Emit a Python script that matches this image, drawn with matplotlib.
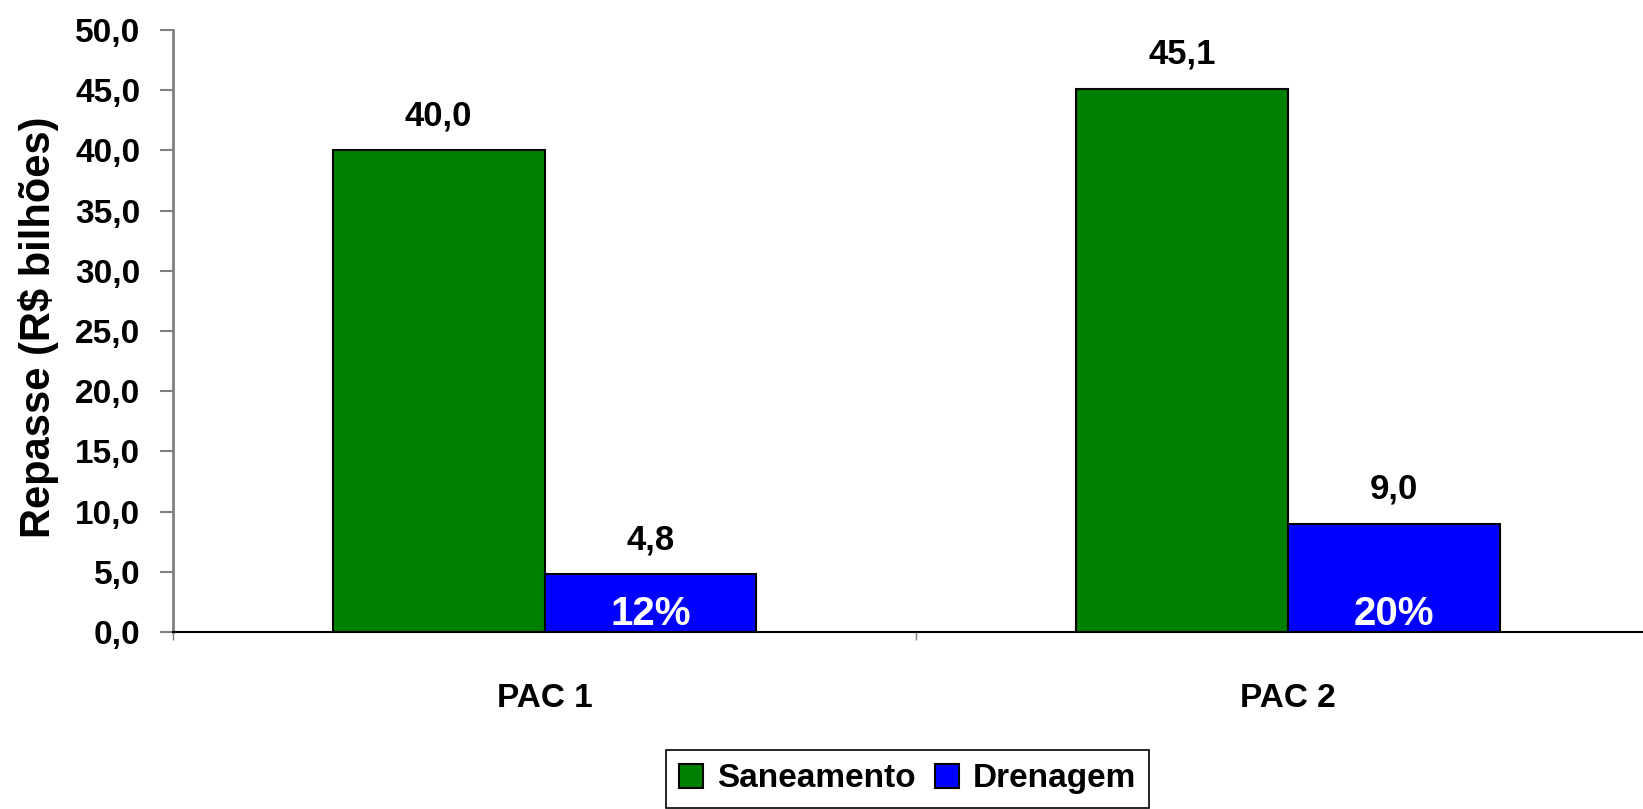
import numpy as np
import matplotlib
matplotlib.use("Agg")
import matplotlib.pyplot as plt
from matplotlib.patches import Patch

categories = ["PAC 1", "PAC 2"]
saneamento = [40.0, 45.1]
drenagem = [4.8, 9.0]
shares = ["12%", "20%"]
y_ticks = [0, 5, 10, 15, 20, 25, 30, 35, 40, 45, 50]

plt.rcParams["font.family"] = ["Liberation Sans", "DejaVu Sans"]
plt.rcParams["font.weight"] = "bold"

fig = plt.figure(figsize=(16.43, 8.09), dpi=100)
ax = fig.add_axes([173 / 1643, 1 - 632 / 809, 1 - 173 / 1643, (632 - 30) / 809])

x = np.arange(len(categories))
w = 0.285
ax.bar(x - w / 2, saneamento, w, color="#008000", edgecolor="black", linewidth=1.5)
ax.bar(x + w / 2, drenagem, w, color="#0000FF", edgecolor="black", linewidth=1.5)

# value labels above the bars
for xs, vals in [(x - w / 2, saneamento), (x + w / 2, drenagem)]:
    for xi, v in zip(xs, vals):
        ax.annotate(f"{v:.1f}".replace(".", ","), (xi, v), xytext=(0, 13), textcoords="offset points",
                    ha="center", va="bottom", fontsize=25, fontweight="bold")
# share of drainage inside the blue bars
for xi, s in zip(x + w / 2, shares):
    ax.annotate(s, (xi, 0), xytext=(0, 5), textcoords="offset points",
                ha="center", va="baseline", fontsize=29, fontweight="bold", color="white")

ax.set_ylim(0, 50)
ax.set_yticks(y_ticks)
ax.set_yticklabels([f"{t:.1f}".replace(".", ",") for t in y_ticks], fontsize=24, fontweight="bold")
ax.tick_params(axis="y", length=9.5, width=1.5, color="#808080", pad=14)
ax.yaxis.get_major_ticks()[0].tick1line.set_color("black")

ax.set_xticks(x)
ax.set_xticklabels(categories, fontsize=24, fontweight="bold")
ax.set_xticks([-0.5, 0.5], minor=True)
ax.tick_params(axis="x", which="major", length=0, pad=37)
ax.tick_params(axis="x", which="minor", length=6, width=1, color="#808080")
ax.set_xlim(-0.5, 1.478)

ax.set_ylabel("Repasse (R$ bilhões)", fontsize=30, fontweight="bold")
ax.yaxis.set_label_coords(-0.0775, 0.507)

for s in ["top", "right"]:
    ax.spines[s].set_visible(False)
ax.spines["left"].set_color("#808080")
ax.spines["left"].set_linewidth(2)
ax.spines["bottom"].set_color("black")
ax.spines["bottom"].set_linewidth(1.5)

handles = [Patch(facecolor="#008000", edgecolor="black", linewidth=1.5, label="Saneamento"),
           Patch(facecolor="#0000FF", edgecolor="black", linewidth=1.5, label="Drenagem")]
leg = fig.legend(handles=handles, loc="upper left", bbox_to_anchor=(666 / 1643, 1 - 750 / 809),
                 ncol=2, fancybox=False, framealpha=1, edgecolor="black",
                 prop={"weight": "bold", "size": 24},
                 handlelength=0.72, handleheight=0.72, handletextpad=0.4, columnspacing=0.6,
                 borderpad=0.4, borderaxespad=0)
leg.get_frame().set_linewidth(1.2)

fig.savefig("out.png", dpi=100)
